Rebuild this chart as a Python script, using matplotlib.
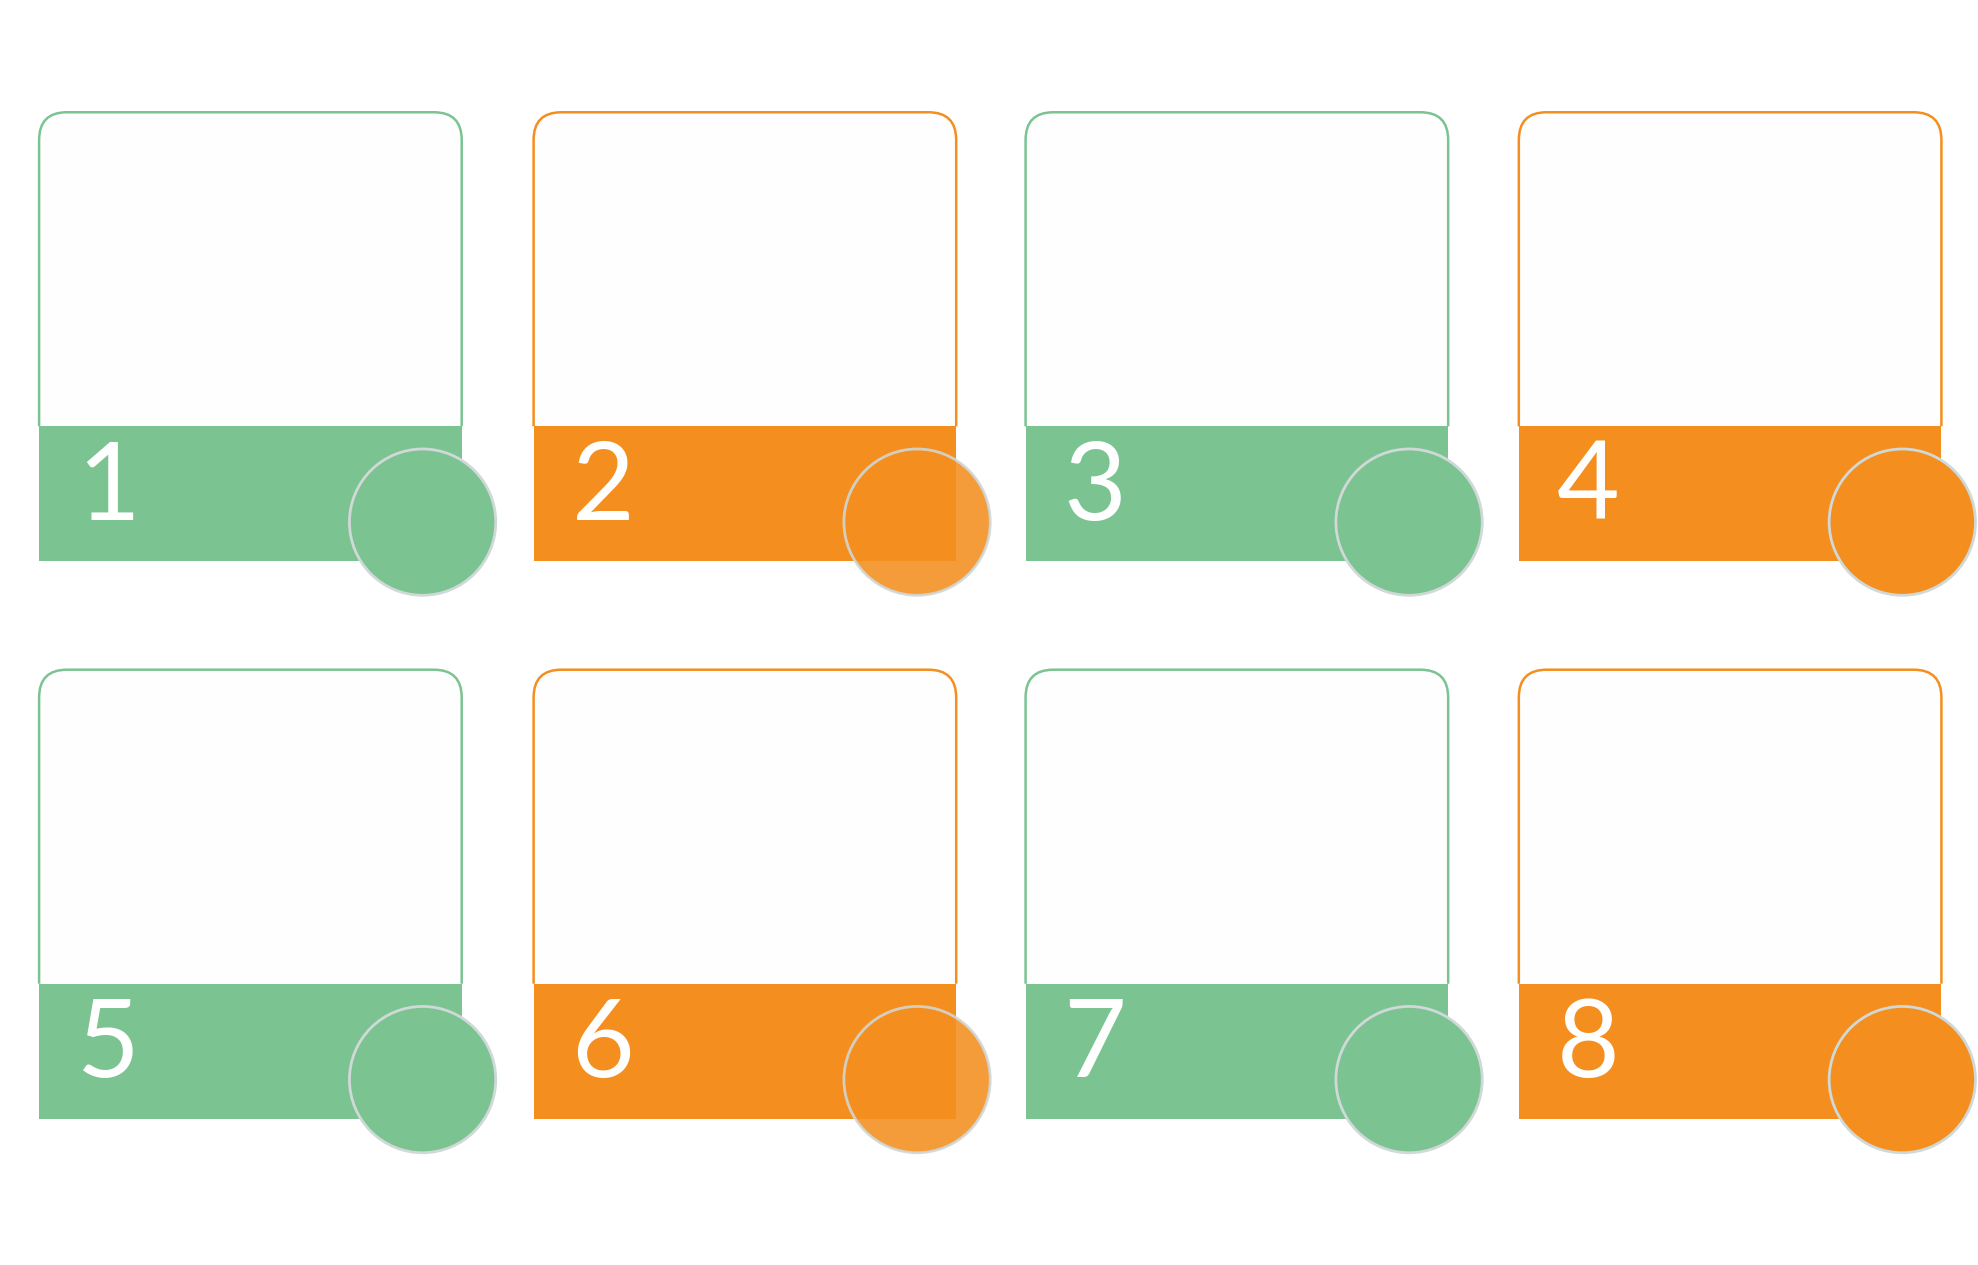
import matplotlib.pyplot as plt
from matplotlib.patches import Rectangle, Circle, PathPatch
from matplotlib.path import Path

labels = ["1", "2", "3", "4", "5", "6", "7", "8"]
colors = ["#7BC492", "#F48F1F", "#7BC492", "#F48F1F",
          "#7BC492", "#F48F1F", "#7BC492", "#F48F1F"]
circle_alpha = [1, 0.88, 1, 1, 1, 0.88, 1, 1]
col_left = [31, 423, 813, 1204]
row_top = [89, 531]

W, H = 1568, 1003
fig = plt.figure(figsize=(19.78, 12.65), dpi=100)
ax = fig.add_axes([0, 0, 1, 1])
ax.set_xlim(0, W)
ax.set_ylim(H, 0)
ax.axis("off")


def card_path(x0, x1, y0, y1, r):
    verts = [(x0, y1), (x0, y0 + r), (x0, y0), (x0 + r, y0),
             (x1 - r, y0), (x1, y0), (x1, y0 + r), (x1, y1)]
    codes = [Path.MOVETO, Path.LINETO, Path.CURVE3, Path.CURVE3,
             Path.LINETO, Path.CURVE3, Path.CURVE3, Path.LINETO]
    return Path(verts, codes)


for i, (lab, c) in enumerate(zip(labels, colors)):
    x0 = col_left[i % 4]
    y0 = row_top[i // 4]
    x1 = x0 + 335
    yb = y0 + 249
    ax.add_patch(PathPatch(card_path(x0, x1, y0, yb, 22), facecolor="#FEFEFE",
                           edgecolor=c, lw=1.8))
    ax.add_patch(Rectangle((x0, yb), 335, 107, facecolor=c, edgecolor="none"))
    ax.add_patch(Circle((x0 + 304, yb + 76), 58, facecolor=c,
                        alpha=circle_alpha[i], edgecolor="#D0D8D8", lw=2))
    ax.text(x0 + 55, yb + 50, lab, color="white", fontsize=78,
            family="Lato", ha="center", va="center")

fig.savefig("out.png", dpi=100, facecolor="white")
